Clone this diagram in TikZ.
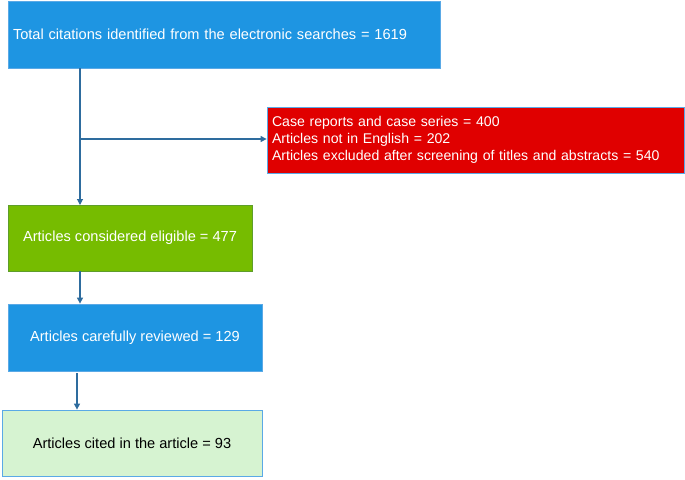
\documentclass[tikz,border=0pt]{standalone}
\usepackage{fontspec}
\setmainfont{Liberation Sans}
\usetikzlibrary{arrows.meta,calc}
\definecolor{bluefill}{HTML}{1E95E2}
\definecolor{blueedge}{HTML}{5AA9E6}
\definecolor{redfill}{HTML}{E00000}
\definecolor{greenfill}{HTML}{76BC00}
\definecolor{greenedge}{HTML}{5E9E2A}
\definecolor{palefill}{HTML}{D6F3D1}
\definecolor{linecol}{HTML}{2E6C9E}
\tikzset{
  box/.style={draw, line width=0.8pt, rectangle, inner sep=0pt, font=\fontsize{14.6}{17}\selectfont},
  leftbox/.style={box, align=left, text width=#1, inner xsep=5pt},
  conn/.style={draw=linecol, line width=1.1pt, -{Triangle[length=6pt,width=6pt]}},
  plain/.style={draw=linecol, line width=1.1pt}
}
\begin{document}
\begin{tikzpicture}[x=1pt,y=-1pt]
\useasboundingbox (0,0) rectangle (685,479);
\node[leftbox=422pt, fill=bluefill, draw=blueedge, text=white, minimum width=432pt, minimum height=67pt] (b1) at (224,34.5) {Total citations identified from the electronic searches = 1619};
\node[leftbox=407pt, fill=redfill, draw=blueedge, text=white, minimum width=417pt, minimum height=66pt, font=\fontsize{14.1}{17}\selectfont] (ex) at (475.5,140) {Case reports and case series = 400\\Articles not in English = 202\\Articles excluded after screening of titles and abstracts = 540};
\node[box, fill=greenfill, draw=greenedge, text=white, minimum width=244pt, minimum height=66pt] (b2) at (130,238) {Articles considered eligible = 477};
\node[box, fill=bluefill, draw=blueedge, text=white, minimum width=254pt, minimum height=67pt] (b3) at (135,337.5) {Articles carefully reviewed = 129};
\node[box, fill=palefill, draw=blueedge, text=black, minimum width=260pt, minimum height=66pt] (b4) at (132,443) {Articles cited in the article = 93};
\coordinate (s1) at (80,68);
\coordinate (br) at (80,139);
\coordinate (e1) at (80,205);
\draw[conn] (s1) -- (e1);
\draw[conn] (br) -- (br -| ex.west);
\draw[conn] (b2.south -| s1) -- (b3.north -| s1);
\coordinate (s3) at (77,373);
\draw[conn] (s3) -- (b4.north -| s3);
\end{tikzpicture}
\end{document}
